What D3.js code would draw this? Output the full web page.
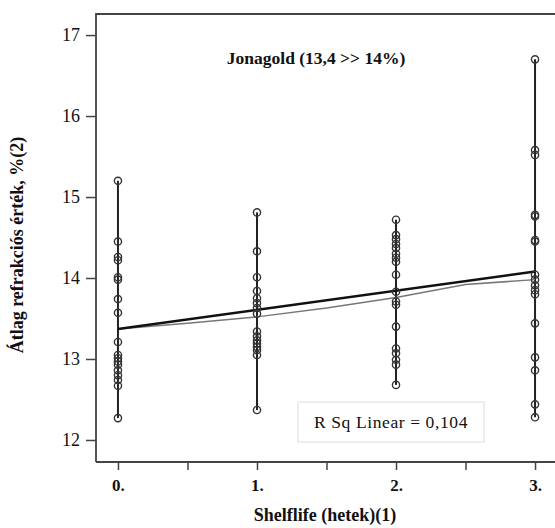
<!DOCTYPE html>
<html><head><meta charset="utf-8">
<script src="https://cdn.jsdelivr.net/npm/d3@7"></script>
<style>body{margin:0;background:#fff}svg{display:block}</style>
</head><body><svg id="c" width="555" height="528"></svg>
<script>
const categories = [0, 1, 2, 3];
const xTickLabels = ["0.", "1.", "2.", "3."];
const yTicks = [12, 13, 14, 15, 16, 17];
const week0 = [15.2,14.45,14.26,14.22,14.01,13.98,13.74,13.57,13.21,13.05,13.01,12.97,12.93,12.86,12.80,12.74,12.67,12.27];
const week1 = [14.81,14.33,14.01,13.84,13.75,13.69,13.63,13.56,13.34,13.28,13.23,13.19,13.15,13.11,13.05,12.37];
const week2 = [14.72,14.53,14.48,14.42,14.37,14.30,14.25,14.20,14.04,13.83,13.71,13.67,13.40,13.13,13.07,12.99,12.93,12.68];
const week3 = [16.70,15.58,15.52,14.78,14.76,14.47,14.45,14.04,13.98,13.91,13.85,13.80,13.44,13.02,12.86,12.44,12.28];
const linearFitX = [0, 3];
const linearFitY = [13.37, 14.08];
const smoothFitX = [0, 0.5, 1, 1.5, 2, 2.5, 3];
const smoothFitY = [13.37, 13.44, 13.52, 13.63, 13.76, 13.92, 13.98];
const titleText = "Jonagold (13,4 >> 14%)";
const rsqText = "R Sq Linear = 0,104";
const xTitle = "Shelflife (hetek)(1)";
const yTitle = "Átlag refrakciós érték, %(2)";

const series = [week0, week1, week2, week3];
const svg = d3.select("#c");
const L = 96, T = 14, R = 557, B = 462;
const x = d3.scaleLinear().domain([-0.158, 3.158]).range([L, R]);
const y = d3.scaleLinear().domain([11.728, 17.26]).range([B, T]);
const serif = "'Liberation Serif', 'Times New Roman', serif";
const axisCol = "#444";

svg.append("path").attr("d", `M${L},${B}V${T}H${R}`).attr("fill","none").attr("stroke",axisCol).attr("stroke-width",1.8);
svg.append("line").attr("x1",L).attr("x2",R).attr("y1",B).attr("y2",B).attr("stroke",axisCol).attr("stroke-width",1.8);

const yAxis = d3.axisLeft(y).tickValues(yTicks).tickSize(10).tickPadding(6).tickFormat(d3.format("d"));
const yg = svg.append("g").attr("transform",`translate(${L},0)`).call(yAxis);
yg.select(".domain").remove();
yg.selectAll("line").attr("stroke",axisCol).attr("stroke-width",1.5);
yg.selectAll("text").attr("font-family",serif).attr("font-size",18).attr("fill","#111");

const xAxis = d3.axisBottom(x).tickValues([0,0.5,1,1.5,2,2.5,3]).tickSize(8).tickPadding(9)
  .tickFormat(d => Number.isInteger(d) ? xTickLabels[d] : "");
const xg = svg.append("g").attr("transform",`translate(0,${B})`).call(xAxis);
xg.select(".domain").remove();
xg.selectAll("line").attr("stroke",axisCol).attr("stroke-width",1.5);
xg.selectAll("text").attr("font-family",serif).attr("font-size",17).attr("font-weight","bold").attr("fill","#111");

series.forEach((vals, i) => {
  svg.append("line").attr("x1",x(categories[i])).attr("x2",x(categories[i]))
    .attr("y1",y(d3.min(vals))).attr("y2",y(d3.max(vals)))
    .attr("stroke","#222").attr("stroke-width",2);
});

const line = d3.line().x(d => x(d[0])).y(d => y(d[1]));
svg.append("path").attr("d", line(smoothFitX.map((v,i)=>[v, smoothFitY[i]])))
  .attr("fill","none").attr("stroke","#777").attr("stroke-width",1.5);
svg.append("path").attr("d", line(linearFitX.map((v,i)=>[v, linearFitY[i]])))
  .attr("fill","none").attr("stroke","#111").attr("stroke-width",2.5);

series.forEach((vals, i) => {
  svg.append("g").selectAll("circle").data(vals).join("circle")
    .attr("cx", x(categories[i])).attr("cy", d => y(d)).attr("r", 3.6)
    .attr("fill","none").attr("stroke","#333").attr("stroke-width",1.4);
});

svg.append("text").attr("x",316).attr("y",64).attr("text-anchor","middle")
  .attr("font-family",serif).attr("font-size",17.5).attr("font-weight","bold").attr("fill","#111").text(titleText);

svg.append("rect").attr("x",298).attr("y",402).attr("width",186).attr("height",40)
  .attr("fill","#fff").attr("stroke","#ddd").attr("stroke-width",1);
svg.append("text").attr("x",391).attr("y",428).attr("text-anchor","middle")
  .attr("font-family",serif).attr("font-size",17.5).attr("letter-spacing",0.6).attr("fill","#111").text(rsqText);

svg.append("text").attr("x",325).attr("y",521).attr("text-anchor","middle")
  .attr("font-family",serif).attr("font-size",18).attr("font-weight","bold").attr("fill","#111").text(xTitle);
svg.append("text").attr("transform","translate(23,245) rotate(-90)").attr("text-anchor","middle")
  .attr("font-family",serif).attr("font-size",18).attr("font-weight","bold").attr("fill","#111").text(yTitle);
</script></body></html>
